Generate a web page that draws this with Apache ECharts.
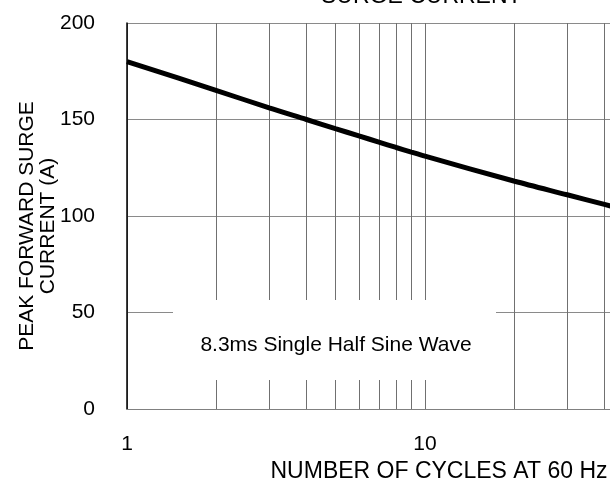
<!DOCTYPE html>
<html>
<head>
<meta charset="utf-8">
<script src="https://cdn.jsdelivr.net/npm/echarts@6/dist/echarts.min.js"></script>
<style>
  html, body { margin: 0; padding: 0; background: #fff; }
  #chart { width: 610px; height: 484px; }
</style>
</head>
<body>
<div id="chart"></div>
<script>
// number of cycles at 60 Hz and the peak surge current
const cycles = [1, 2, 3, 4, 5, 6, 7, 8, 9, 10, 20, 30, 40, 50];
const surgeCurrent = [180, 165, 156, 150, 145.3, 141.5, 138.3, 135.5, 133.1, 131, 118, 111, 106, 102];
// log grid lines between the decades
const minorGridValues = [2, 3, 4, 5, 6, 7, 8, 9, 20, 30, 40, 50, 60, 70, 80, 90];

const font = 'Liberation Sans, Arial, sans-serif';
const gridColor = '#707070';

const chart = echarts.init(document.getElementById('chart'));

const option = {
  animation: false,
  title: {
    text: 'SURGE CURRENT',
    left: 316,
    top: -20,
    textStyle: { fontFamily: font, fontSize: 23, fontWeight: 'normal', color: '#000' }
  },
  // the original plot runs on past the right edge of the picture (to 100 cycles)
  grid: { left: 127, right: -113, top: 23, bottom: 75, outerBoundsMode: 'none', containLabel: false },
  xAxis: {
    type: 'log',
    logBase: 10,
    min: 1,
    max: 100,
    name: 'NUMBER OF CYCLES AT 60 Hz',
    nameLocation: 'middle',
    nameGap: 51,
    nameMoveOverlap: false,
    nameTextStyle: { fontFamily: font, fontSize: 23, color: '#000', padding: [0, 0, 0, 28] },
    axisLine: { lineStyle: { color: '#808080', width: 1 } },
    axisTick: { show: false },
    axisLabel: { fontFamily: font, fontSize: 21, color: '#000', margin: 25 },
    splitLine: { show: true, lineStyle: { color: gridColor, width: 1 } },
    minorTick: { show: false },
    minorSplitLine: { show: false }
  },
  yAxis: {
    type: 'value',
    min: 0,
    max: 200,
    interval: 50,
    name: 'PEAK FORWARD SURGE\nCURRENT (A)',
    nameLocation: 'middle',
    nameRotate: 90,
    nameGap: 68,
    nameMoveOverlap: false,
    nameTextStyle: { fontFamily: font, fontSize: 21, lineHeight: 21, color: '#000', padding: [0, 20, 0, 0] },
    axisLine: { show: true, lineStyle: { color: '#000', width: 1.5 } },
    axisTick: { show: false },
    axisLabel: { fontFamily: font, fontSize: 21, color: '#000', margin: 32 },
    splitLine: { show: true, lineStyle: { color: '#8a8a8a', width: 1 } }
  },
  graphic: [
    {
      type: 'rect',
      z: 100,
      shape: { x: 173, y: 300, width: 323, height: 80 },
      style: { fill: '#fff' }
    },
    {
      type: 'text',
      z: 101,
      x: 336,
      y: 345,
      style: {
        text: '8.3ms Single Half Sine Wave',
        fontFamily: font,
        fontSize: 21,
        fill: '#000',
        align: 'center',
        verticalAlign: 'middle'
      }
    }
  ],
  series: [
    {
      type: 'line',
      data: cycles.map((c, i) => [c, surgeCurrent[i]]),
      smooth: 0.3,
      symbol: 'none',
      lineStyle: { color: '#000', width: 5 },
      z: 5,
      markLine: {
        silent: true,
        symbol: ['none', 'none'],
        label: { show: false },
        lineStyle: { type: 'solid', color: gridColor, width: 1 },
        z: 1,
        data: minorGridValues.map(v => ({ xAxis: v }))
      }
    }
  ]
};

chart.setOption(option);
</script>
</body>
</html>
